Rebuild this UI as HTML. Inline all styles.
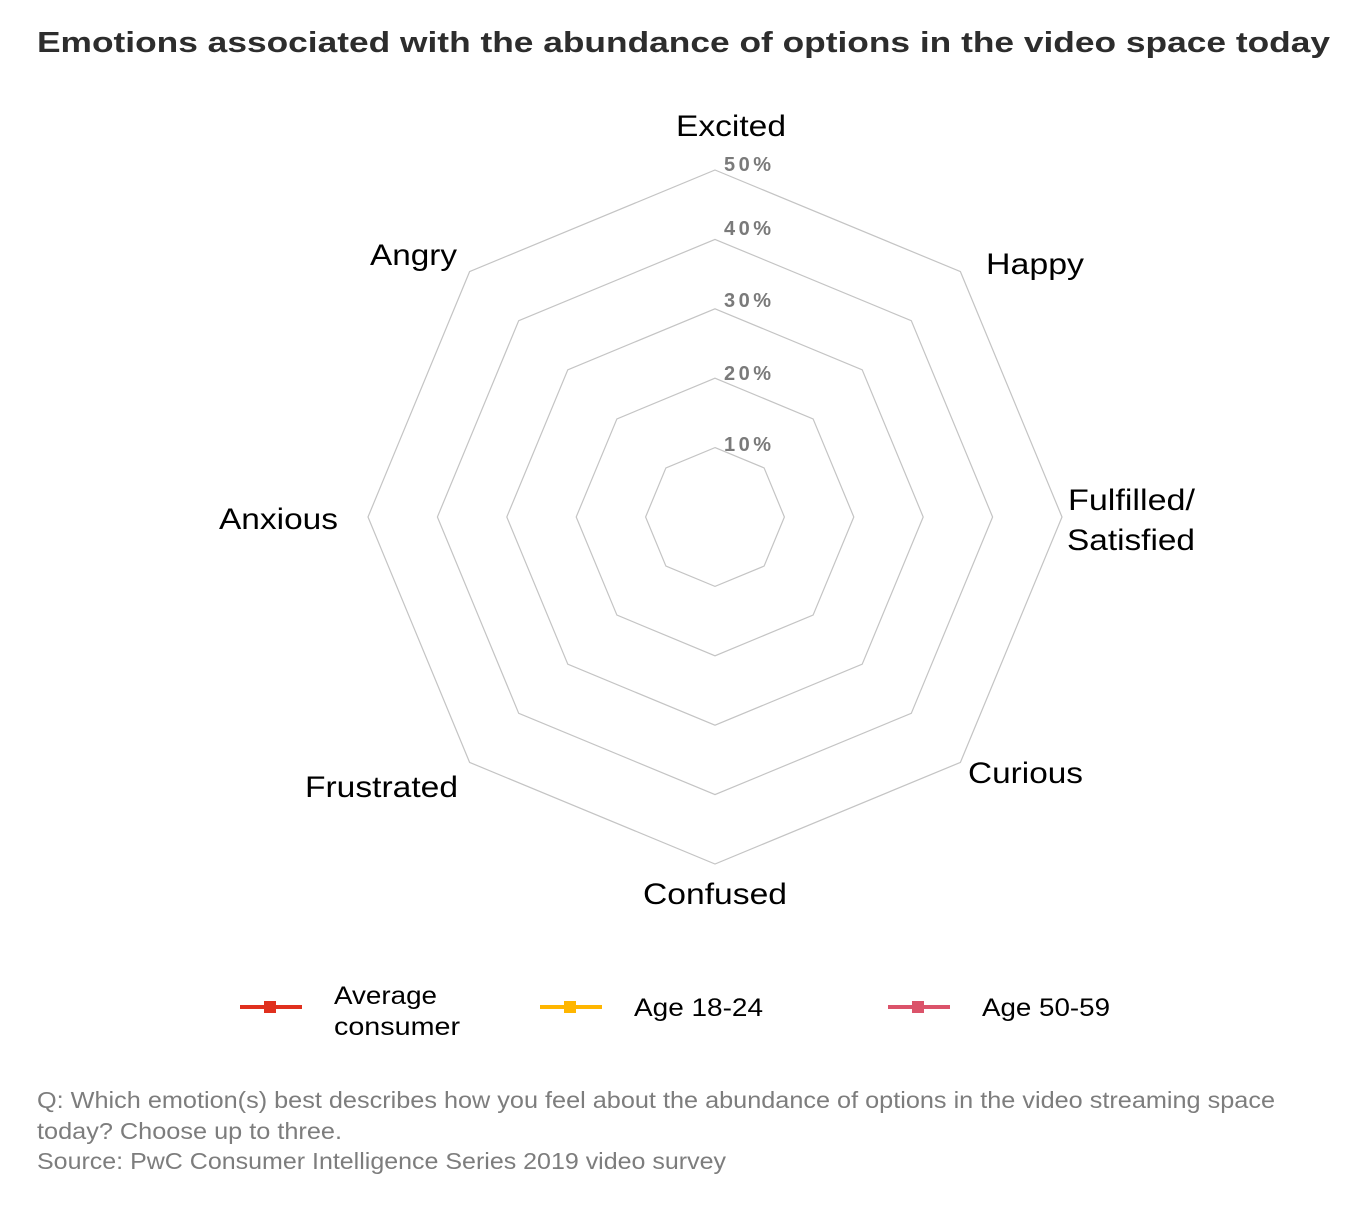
<!DOCTYPE html>
<html><head><meta charset="utf-8"><style>
body{margin:0;background:#fff;}
svg{display:block;font-family:"Liberation Sans",sans-serif;}
</style></head><body>
<svg width="1365" height="1210" viewBox="0 0 1365 1210">
<text x="37" y="52" font-size="29" font-weight="bold" fill="#2d2d2d" textLength="1293" lengthAdjust="spacingAndGlyphs">Emotions associated with the abundance of options in the video space today</text>
<g fill="none" stroke="#c4c4c4" stroke-width="1.2">
<polygon points="715,447.6 764.1,467.9 784.4,517 764.1,566.1 715,586.4 665.9,566.1 645.6,517 665.9,467.9"/>
<polygon points="715,378.2 813.1,418.9 853.8,517 813.1,615.1 715,655.8 616.9,615.1 576.2,517 616.9,418.9"/>
<polygon points="715,308.8 862.2,369.8 923.2,517 862.2,664.2 715,725.2 567.8,664.2 506.8,517 567.8,369.8"/>
<polygon points="715,239.4 911.3,320.7 992.6,517 911.3,713.3 715,794.6 518.7,713.3 437.4,517 518.7,320.7"/>
<polygon points="715,170 960.4,271.6 1062,517 960.4,762.4 715,864 469.6,762.4 368,517 469.6,271.6"/>
</g>
<g font-size="20" fill="#7a7a7a" font-weight="bold" lengthAdjust="spacingAndGlyphs">
<text x="724" y="171" textLength="47">50%</text>
<text x="724" y="235" textLength="47">40%</text>
<text x="724" y="307" textLength="47">30%</text>
<text x="724" y="380" textLength="47">20%</text>
<text x="724" y="451" textLength="47">10%</text>
</g>
<g font-size="30" fill="#000">
<text x="676" y="136" textLength="110" lengthAdjust="spacingAndGlyphs">Excited</text>
<text x="986" y="274" textLength="98" lengthAdjust="spacingAndGlyphs">Happy</text>
<text x="1068" y="510" textLength="127" lengthAdjust="spacingAndGlyphs">Fulfilled/</text>
<text x="1067" y="550" textLength="128" lengthAdjust="spacingAndGlyphs">Satisfied</text>
<text x="968" y="783" textLength="115" lengthAdjust="spacingAndGlyphs">Curious</text>
<text x="643" y="904" textLength="144" lengthAdjust="spacingAndGlyphs">Confused</text>
<text x="305" y="797" textLength="153" lengthAdjust="spacingAndGlyphs">Frustrated</text>
<text x="219" y="529" textLength="119" lengthAdjust="spacingAndGlyphs">Anxious</text>
<text x="370" y="265" textLength="87" lengthAdjust="spacingAndGlyphs">Angry</text>
</g>
<g stroke-width="4">
<line x1="240" y1="1007" x2="302" y2="1007" stroke="#e0301e"/>
<rect x="264" y="1001" width="12" height="12" fill="#e0301e"/>
<line x1="540" y1="1007" x2="602" y2="1007" stroke="#ffb600"/>
<rect x="564" y="1001" width="12" height="12" fill="#ffb600"/>
<line x1="888" y1="1007" x2="950" y2="1007" stroke="#db536a"/>
<rect x="912" y="1001" width="12" height="12" fill="#db536a"/>
</g>
<g font-size="25" fill="#000">
<text x="334" y="1004" textLength="103" lengthAdjust="spacingAndGlyphs">Average</text>
<text x="334" y="1035" textLength="126" lengthAdjust="spacingAndGlyphs">consumer</text>
<text x="634" y="1016" textLength="129" lengthAdjust="spacingAndGlyphs">Age 18-24</text>
<text x="982" y="1016" textLength="128" lengthAdjust="spacingAndGlyphs">Age 50-59</text>
</g>
<g font-size="23" fill="#7d7d7d">
<text x="37" y="1108" textLength="1238" lengthAdjust="spacingAndGlyphs">Q: Which emotion(s) best describes how you feel about the abundance of options in the video streaming space</text>
<text x="37" y="1139" textLength="305" lengthAdjust="spacingAndGlyphs">today? Choose up to three.</text>
<text x="37" y="1169" textLength="689" lengthAdjust="spacingAndGlyphs">Source: PwC Consumer Intelligence Series 2019 video survey</text>
</g>
</svg>
</body></html>
